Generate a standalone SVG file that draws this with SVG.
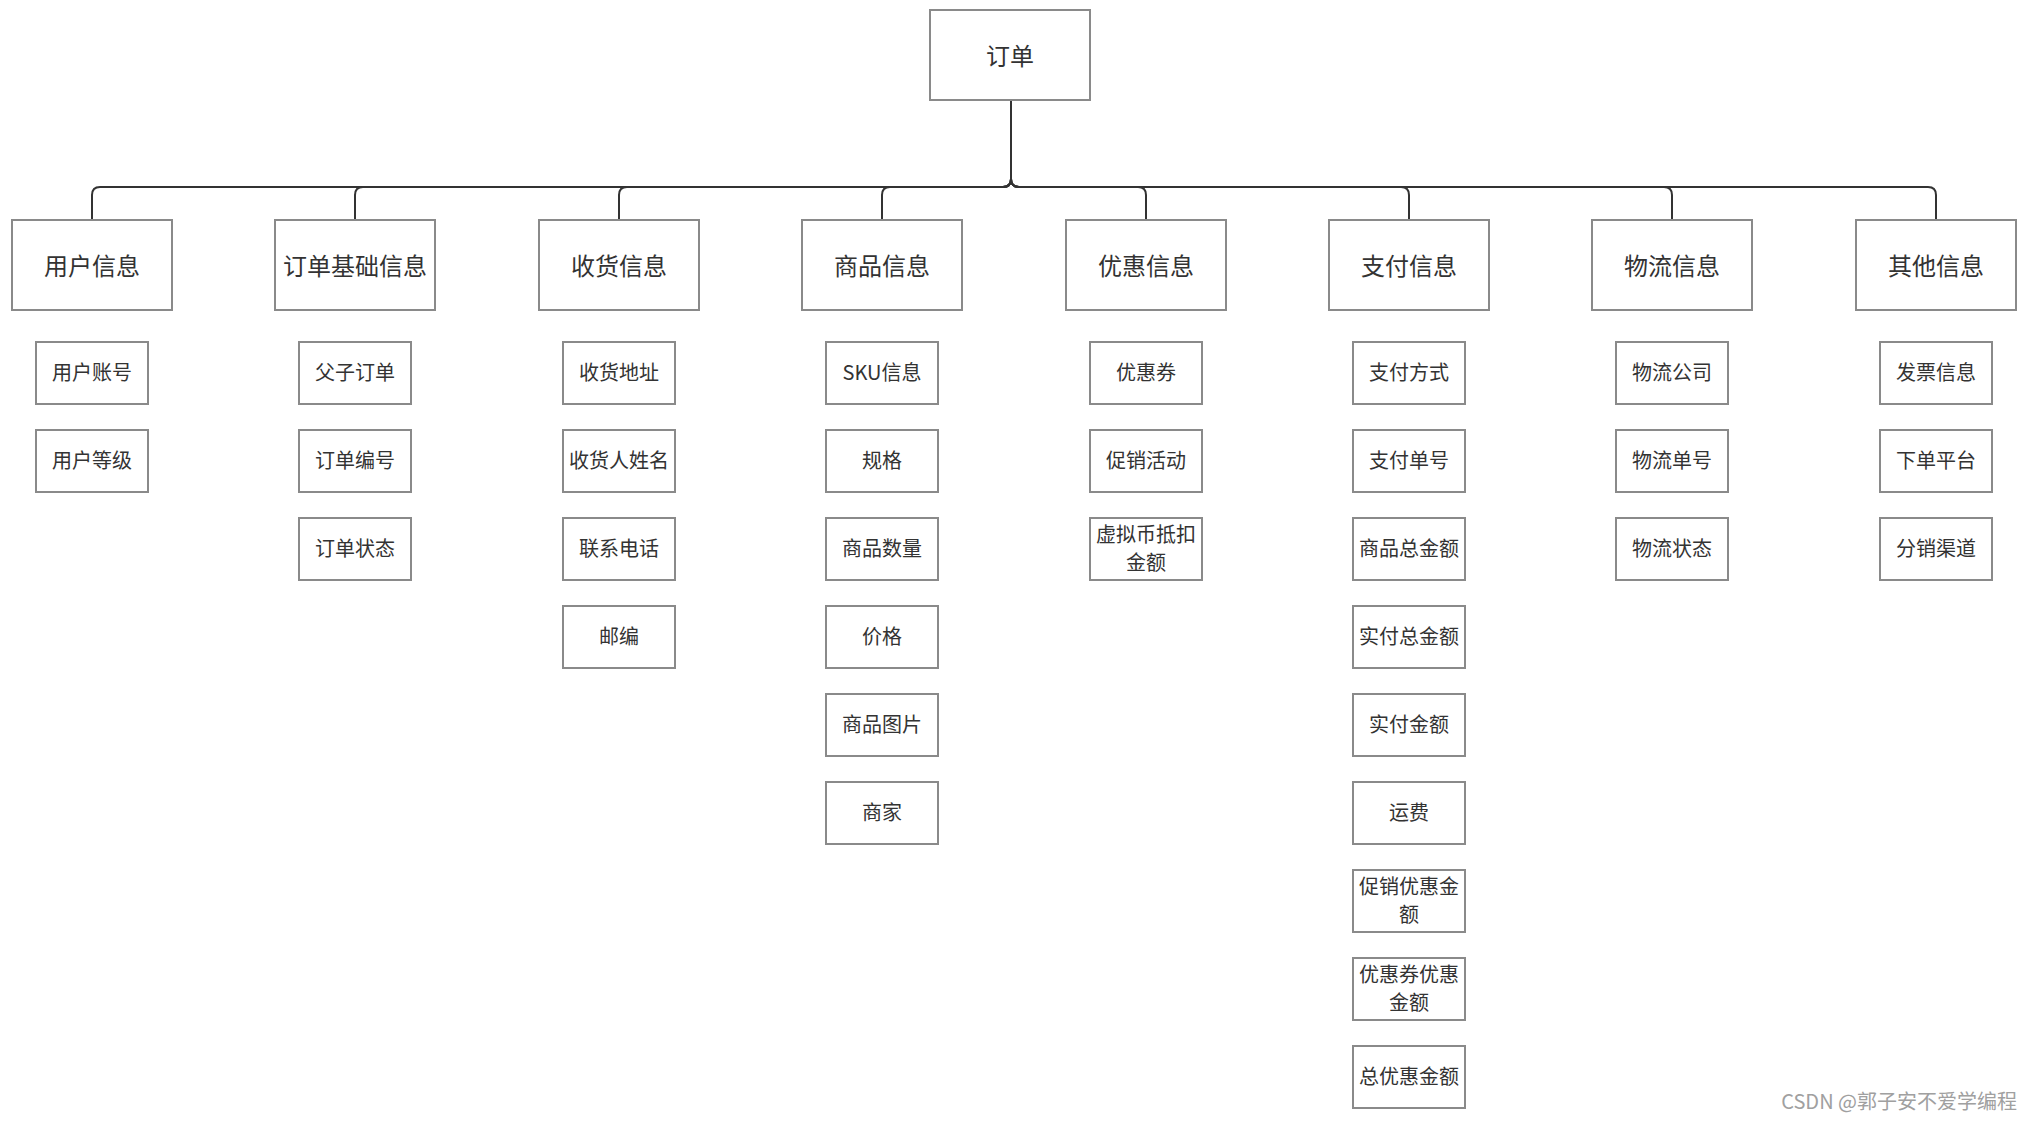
<svg xmlns="http://www.w3.org/2000/svg" width="2032" height="1121" viewBox="0 0 2032 1121">
<style>
.box{fill:#fff;stroke:#8a8a8a;stroke-width:2}
.t{font-family:"Noto Sans CJK SC","Liberation Sans",sans-serif;fill:#333;text-anchor:middle;dominant-baseline:central}
.t1{font-size:24px}
.t2{font-size:20px}
.e{fill:none;stroke:#333;stroke-width:2}
.wm{font-family:"Noto Sans CJK SC","Liberation Sans",sans-serif;fill:#a0a0a0;font-size:20px;text-anchor:end}
</style>
<rect width="2032" height="1121" fill="#fff"/>
<g id="connectors">
<path class="e" d="M1011,100 V179 Q1011,187 1003,187 H100 Q92,187 92,195 V220"/>
<path class="e" d="M1011,100 V179 Q1011,187 1003,187 H363 Q355,187 355,195 V220"/>
<path class="e" d="M1011,100 V179 Q1011,187 1003,187 H627 Q619,187 619,195 V220"/>
<path class="e" d="M1011,100 V179 Q1011,187 1003,187 H890 Q882,187 882,195 V220"/>
<path class="e" d="M1011,100 V179 Q1011,187 1019,187 H1138 Q1146,187 1146,195 V220"/>
<path class="e" d="M1011,100 V179 Q1011,187 1019,187 H1401 Q1409,187 1409,195 V220"/>
<path class="e" d="M1011,100 V179 Q1011,187 1019,187 H1664 Q1672,187 1672,195 V220"/>
<path class="e" d="M1011,100 V179 Q1011,187 1019,187 H1928 Q1936,187 1936,195 V220"/>
</g>
<g id="root"><rect class="box" x="930" y="10" width="160" height="90"/><text class="t t1" x="1010" y="54">订单</text></g>

<g id="n1"><rect class="box" x="12" y="220" width="160" height="90"/><text class="t t1" x="92" y="264">用户信息</text></g>
<g id="n1a"><rect class="box" x="36" y="342" width="112" height="62"/><text class="t t2" x="92" y="371">用户账号</text></g>
<g id="n1b"><rect class="box" x="36" y="430" width="112" height="62"/><text class="t t2" x="92" y="459">用户等级</text></g>

<g id="n2"><rect class="box" x="275" y="220" width="160" height="90"/><text class="t t1" x="355" y="264">订单基础信息</text></g>
<g id="n2a"><rect class="box" x="299" y="342" width="112" height="62"/><text class="t t2" x="355" y="371">父子订单</text></g>
<g id="n2b"><rect class="box" x="299" y="430" width="112" height="62"/><text class="t t2" x="355" y="459">订单编号</text></g>
<g id="n2c"><rect class="box" x="299" y="518" width="112" height="62"/><text class="t t2" x="355" y="547">订单状态</text></g>

<g id="n3"><rect class="box" x="539" y="220" width="160" height="90"/><text class="t t1" x="619" y="264">收货信息</text></g>
<g id="n3a"><rect class="box" x="563" y="342" width="112" height="62"/><text class="t t2" x="619" y="371">收货地址</text></g>
<g id="n3b"><rect class="box" x="563" y="430" width="112" height="62"/><text class="t t2" x="619" y="459">收货人姓名</text></g>
<g id="n3c"><rect class="box" x="563" y="518" width="112" height="62"/><text class="t t2" x="619" y="547">联系电话</text></g>
<g id="n3d"><rect class="box" x="563" y="606" width="112" height="62"/><text class="t t2" x="619" y="635">邮编</text></g>

<g id="n4"><rect class="box" x="802" y="220" width="160" height="90"/><text class="t t1" x="882" y="264">商品信息</text></g>
<g id="n4a"><rect class="box" x="826" y="342" width="112" height="62"/><text class="t t2" x="882" y="371">SKU信息</text></g>
<g id="n4b"><rect class="box" x="826" y="430" width="112" height="62"/><text class="t t2" x="882" y="459">规格</text></g>
<g id="n4c"><rect class="box" x="826" y="518" width="112" height="62"/><text class="t t2" x="882" y="547">商品数量</text></g>
<g id="n4d"><rect class="box" x="826" y="606" width="112" height="62"/><text class="t t2" x="882" y="635">价格</text></g>
<g id="n4e"><rect class="box" x="826" y="694" width="112" height="62"/><text class="t t2" x="882" y="723">商品图片</text></g>
<g id="n4f"><rect class="box" x="826" y="782" width="112" height="62"/><text class="t t2" x="882" y="811">商家</text></g>

<g id="n5"><rect class="box" x="1066" y="220" width="160" height="90"/><text class="t t1" x="1146" y="264">优惠信息</text></g>
<g id="n5a"><rect class="box" x="1090" y="342" width="112" height="62"/><text class="t t2" x="1146" y="371">优惠券</text></g>
<g id="n5b"><rect class="box" x="1090" y="430" width="112" height="62"/><text class="t t2" x="1146" y="459">促销活动</text></g>
<g id="n5c"><rect class="box" x="1090" y="518" width="112" height="62"/><text class="t t2"><tspan x="1146" y="533">虚拟币抵扣</tspan><tspan x="1146" y="561">金额</tspan></text></g>

<g id="n6"><rect class="box" x="1329" y="220" width="160" height="90"/><text class="t t1" x="1409" y="264">支付信息</text></g>
<g id="n6a"><rect class="box" x="1353" y="342" width="112" height="62"/><text class="t t2" x="1409" y="371">支付方式</text></g>
<g id="n6b"><rect class="box" x="1353" y="430" width="112" height="62"/><text class="t t2" x="1409" y="459">支付单号</text></g>
<g id="n6c"><rect class="box" x="1353" y="518" width="112" height="62"/><text class="t t2" x="1409" y="547">商品总金额</text></g>
<g id="n6d"><rect class="box" x="1353" y="606" width="112" height="62"/><text class="t t2" x="1409" y="635">实付总金额</text></g>
<g id="n6e"><rect class="box" x="1353" y="694" width="112" height="62"/><text class="t t2" x="1409" y="723">实付金额</text></g>
<g id="n6f"><rect class="box" x="1353" y="782" width="112" height="62"/><text class="t t2" x="1409" y="811">运费</text></g>
<g id="n6g"><rect class="box" x="1353" y="870" width="112" height="62"/><text class="t t2"><tspan x="1409" y="885">促销优惠金</tspan><tspan x="1409" y="913">额</tspan></text></g>
<g id="n6h"><rect class="box" x="1353" y="958" width="112" height="62"/><text class="t t2"><tspan x="1409" y="973">优惠券优惠</tspan><tspan x="1409" y="1001">金额</tspan></text></g>
<g id="n6i"><rect class="box" x="1353" y="1046" width="112" height="62"/><text class="t t2" x="1409" y="1075">总优惠金额</text></g>

<g id="n7"><rect class="box" x="1592" y="220" width="160" height="90"/><text class="t t1" x="1672" y="264">物流信息</text></g>
<g id="n7a"><rect class="box" x="1616" y="342" width="112" height="62"/><text class="t t2" x="1672" y="371">物流公司</text></g>
<g id="n7b"><rect class="box" x="1616" y="430" width="112" height="62"/><text class="t t2" x="1672" y="459">物流单号</text></g>
<g id="n7c"><rect class="box" x="1616" y="518" width="112" height="62"/><text class="t t2" x="1672" y="547">物流状态</text></g>

<g id="n8"><rect class="box" x="1856" y="220" width="160" height="90"/><text class="t t1" x="1936" y="264">其他信息</text></g>
<g id="n8a"><rect class="box" x="1880" y="342" width="112" height="62"/><text class="t t2" x="1936" y="371">发票信息</text></g>
<g id="n8b"><rect class="box" x="1880" y="430" width="112" height="62"/><text class="t t2" x="1936" y="459">下单平台</text></g>
<g id="n8c"><rect class="box" x="1880" y="518" width="112" height="62"/><text class="t t2" x="1936" y="547">分销渠道</text></g>

<text class="wm" x="2017" y="1109">CSDN @郭子安不爱学编程</text>
</svg>
